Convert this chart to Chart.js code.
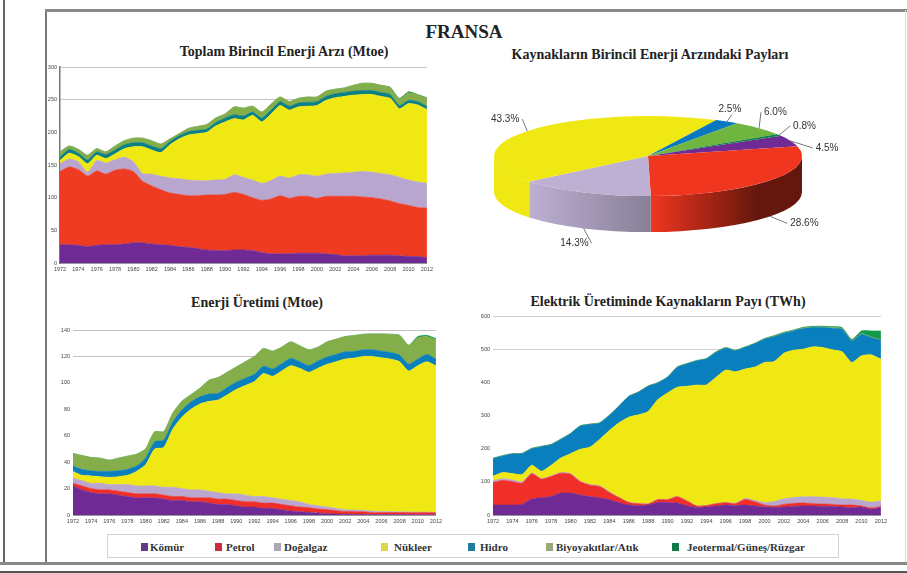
<!DOCTYPE html>
<html>
<head>
<meta charset="utf-8">
<title>Fransa</title>
<script src="https://cdn.jsdelivr.net/npm/chart.js@4"></script>
<style>
html, body { margin: 0; padding: 0; background: #fff; }
#page { position: relative; width: 907px; height: 573px; overflow: hidden; background: #fff; filter: blur(0.6px); font-family: "Liberation Serif", serif; }
#page canvas { position: absolute; }
.line { position: absolute; }
.title { position: absolute; font-weight: bold; color: #222; white-space: nowrap; transform: translateX(-50%); line-height: 1; }
#legendBox { position: absolute; left: 107px; top: 534px; width: 730px; height: 22px; border: 1px solid #d0d4d8; background: #fff; }
.legendText { position: absolute; top: 541px; font-size: 11px; line-height: 12px; font-weight: bold; color: #333; white-space: nowrap; }
.legendMark { position: absolute; top: 543px; width: 7px; height: 8px; }
</style>
</head>
<body>
<div id="page">
	<div class="line" style="left:3px;top:0;width:2px;height:563px;background:#666"></div>
	<div class="line" style="left:45px;top:10px;width:2px;height:553px;background:#777"></div>
	<div class="line" style="left:45px;top:9px;width:862px;height:3px;background:#888"></div>
	<div class="line" style="left:905px;top:10px;width:1px;height:553px;background:#ddd"></div>
	<div class="line" style="left:0;top:562px;width:907px;height:3px;background:#888"></div>
	<div class="line" style="left:0;top:571px;width:907px;height:2px;background:#555"></div>

	<div class="title" style="left:464px;top:22px;font-size:19px">FRANSA</div>
	<div class="title" style="left:284px;top:45px;font-size:14px">Toplam Birincil Enerji Arzı (Mtoe)</div>
	<div class="title" style="left:650px;top:48px;font-size:14px">Kaynakların Birincil Enerji Arzındaki Payları</div>
	<div class="title" style="left:257px;top:296px;font-size:14px">Enerji Üretimi (Mtoe)</div>
	<div class="title" style="left:668px;top:295px;font-size:14px">Elektrik Üretiminde Kaynakların Payı (TWh)</div>

	<canvas id="supplyChart" style="left:40px;top:60px" width="396" height="215"></canvas>
	<canvas id="pieChart" style="left:438px;top:90px" width="420" height="170"></canvas>
	<canvas id="productionChart" style="left:50px;top:322px" width="395" height="205"></canvas>
	<canvas id="electricityChart" style="left:470px;top:308px" width="420" height="219"></canvas>

	<div id="legendBox"></div>
</div>
<script>
var seriesNames = ['Kömür', 'Petrol', 'Doğalgaz', 'Nükleer', 'Hidro', 'Biyoyakıtlar/Atık', 'Jeotermal/Güneş/Rüzgar'];

var years = [
	'1972','1973','1974','1975','1976','1977','1978','1979','1980','1981',
	'1982','1983','1984','1985','1986','1987','1988','1989','1990','1991',
	'1992','1993','1994','1995','1996','1997','1998','1999','2000','2001',
	'2002','2003','2004','2005','2006','2007','2008','2009','2010','2011','2012'
];

//Toplam Birincil Enerji Arzi (Mtoe)
var supplyCoal = [28,28,27,25,27,28,28,29,31,31, 29,28,27,25,24,22,20,19,19,20, 20,19,16,14,14,14,15,15,15,14, 13,11,11,11,12,12,12,11,10,10, 8];
var supplyOil = [112,119,116,108,114,108,114,115,109,94, 89,84,80,80,79,81,84,85,86,88, 85,81,80,84,89,85,87,87,84,88, 89,91,91,90,88,86,83,80,78,75, 76];
var supplyGas = [12,12,12,6,16,17,16,18,15,12, 18,21,23,24,24,23,22,23,23,27, 26,27,26,28,30,31,33,33,34,34, 35,36,37,39,39,39,40,40,39,39, 38];
var supplyNuclear = [5,9,8,13,8,7,9,13,23,41, 37,36,51,61,69,72,74,83,88,86, 88,99,94,102,108,104,104,105,108,113, 116,117,118,118,119,118,117,105,117,118, 113];
var supplyHydro = [5,6,5,6,5,6,6,6,6,6, 6,6,5,5,5,5,5,5,6,6, 6,5,6,6,6,6,6,6,6,6, 6,6,6,6,6,6,6,5,5,5, 5];
var supplyBio = [8,5,6,7,5,4,6,6,7,7, 8,7,4,3,5,6,7,7,6,12, 12,9,9,9,7,7,7,8,7,8, 7,7,9,11,11,11,10,10,11,10, 12];
var supplyGeo = [0,0,0,0,0,0,0,0,0,0, 0,0,0,0,0,0,0,0,0,0, 0,0,0,0,0,0,0,0,0,0, 0,0,0,0,0,0,1,1,2,1, 1];

//Kaynaklarin Birincil Enerji Arzindaki Paylari (%)
var shareValues = [4.5, 28.6, 14.3, 43.3, 2.5, 6.0, 0.8];

//Enerji Uretimi (Mtoe)
var productionCoal = [22,19,17,16,16,15,14,13,13,13, 12,11,11,10,10,9,8,8,7,6, 6,5,5,4,3,2.5,2,1.5,1,0.8, 0.6,0.5,0.4,0.3,0.3,0.3,0.3,0.2,0.2,0.2, 0.1];
var productionOil = [2,3,3,3,3,3,3,3,3,3, 3,3,3,3,3,4,4,4,4,4, 4,4,4,4,4,3.5,3.5,3,3,2.5, 2,2,2,1.5,1.5,1.5,1.5,1.5,1.5,1.5, 1.5];
var productionGas = [4,4,4,5,4,5,6,6,6,6, 6,7,6,6,6,5,5,4,5,5, 4,5,4,4,4,4,2.5,2.5,2,1.7, 1.4,1.3,1.1,1.2,0.8,0.7,0.6,0.6,0.5,0.5, 0.4];
var productionNuclear = [5,4,5.5,5,5.5,6,7,11,16,28, 30,44,54,61,65,68,70,75,79,83, 87,93,92,97,102,101,100,104,108,111, 114,115,116.5,117,116.4,115.5,113.6,106.7,110.8,113.8, 111];
var productionHydro = [4,4.5,4,4,4.5,4.5,4.5,4,5,5.5, 5.5,5.5,5.5,5.5,5.5,5.5,5,5.5,5.5,5.5, 5.5,5.5,5.5,5.5,5.5,5,5,5.5,5.5,5.5, 5.5,5,5,5,5,5,5,5,5,5.5, 5];
var productionBio = [9.6,10.5,10,10,8.5,9.5,10,9,7,7.5, 6.5,6.5,6.5,5.5,6.5,10.5,12,11.5,11.5,12.5, 13.5,13.5,13.5,12.5,12.5,12,12,10.5,11.5,11.5, 11.5,12,11.8,12,13,13.8,15,14.5,16,13.5, 14.5];
var productionGeo = [0,0,0,0,0,0,0,0,0,0, 0,0,0,0,0,0,0,0,0,0, 0,0,0,0,0,0,0,0,0,0, 0,0,0,0,0,0,0,0,1,1, 1];

//Elektrik Uretiminde Kaynaklarin Payi (TWh)
var electricCoal = [30,30,30,32,48,52,56,66,66,60, 55,52,46,37,30,28,30,38,38,36, 28,23,24,27,30,28,30,27,25,23, 24,26,27,27,26,26,24,22,24,17, 23];
var electricOil = [68,74,71,64,76,56,60,60,57,40, 35,34,22,15,8,6,3,8,8,19, 14,4,4,7,7,6,17,13,5,4, 8,9,9,7,7,6,6,8,3,4, 3];
var electricGas = [5,5,5,4,3,2,2,2,2,2, 2,2,2,1,1,1,1,1,1,1, 1,1,1,1,1,2,3,4,8,14, 17,18,19,21,21,20,19,18,17,18, 16];
var electricNuclear = [14,19,19,22,23,22,32,44,60,96, 113,140,185,225,256,267,278,301,321,329, 345,364,363,380,399,396,390,402,422,422, 439,444,445,452,451,446,443,412,436,444, 428];
var electricHydro = [53,50,59,63,50,74,62,56,60,70, 68,49,45,50,62,68,76,50,47,60, 67,72,78,75,66,63,65,70,70,75, 60,58,62,58,60,65,68,65,65,52, 57];
var electricBio = [1,1,1,1,1,1,1,1,1,1, 1,1,1,1,1,1,1,1,1,1, 1,1,1,1,1,1,1,1,1,2, 2,2,2,2,2,2,2,2,2,2, 2];
var electricGeo = [0,0,0,0,0,0,0,0,0,0, 0,0,0,0,0,0,0,0,0,1, 1,1,1,1,1,1,1,1,1,1, 1,1,2,2,2,3,3,3,8,18, 26];

var supplyColors = ['#6f2a96', '#ef3b22', '#b8a6cf', '#efe813', '#0b7f86', '#83ae4a', '#2f8f45'];
var areaColors = ['#6f2a96', '#ef2f28', '#baa6cf', '#efe813', '#0a7fbe', '#83ae4a', '#0f9a4c'];
var pieColors = ['#6f2a96', '#f0361f', '#bdb0d2', '#efe813', '#0a78c0', '#6fb53f', '#0f7f46'];

var legendColors = ['#5d3a8a', '#cf2a38', '#a9a7b4', '#d9d84e', '#1f7ca0', '#9ba77a', '#0f7b48'];
var legendMarkLeft = [141, 215, 274, 381, 468, 546, 672];
var legendTextLeft = [150, 226, 284, 394, 480, 556, 687];

var page = document.getElementById('page');
seriesNames.forEach(function(name, i){
	var mark = document.createElement('div');
	mark.className = 'legendMark';
	mark.style.left = legendMarkLeft[i] + 'px';
	mark.style.background = legendColors[i];
	page.appendChild(mark);
	var text = document.createElement('div');
	text.className = 'legendText';
	text.style.left = legendTextLeft[i] + 'px';
	text.textContent = name;
	page.appendChild(text);
});

/**
 * Yigilmis alan grafigi
 */
function stackedArea(id, seriesList, colors, opt){
	var datasets = seriesList.map(function(values, i){
		return {
			label: seriesNames[i],
			data: values,
			backgroundColor: colors[i],
			borderColor: colors[i],
			borderWidth: 0.6,
			pointRadius: 0,
			tension: 0.2,
			fill: i === 0 ? 'origin' : '-1'
		};
	});
	return new Chart(document.getElementById(id), {
		type: 'line',
		data: { labels: years, datasets: datasets },
		options: {
			responsive: false,
			animation: false,
			layout: { padding: { top: opt.padTop, right: opt.padRight } },
			plugins: { legend: { display: false }, title: { display: false }, tooltip: { enabled: false } },
			scales: {
				x: {
					stacked: true,
					offset: false,
					afterFit: function(scale){ scale.height = 12; },
					grid: { display: false, drawTicks: false },
					border: { color: '#999' },
					ticks: {
						autoSkip: false,
						maxRotation: 0,
						padding: 3,
						color: '#444',
						font: { size: 5.5, family: 'Liberation Sans' },
						callback: function(value, index){ return index % 2 === 0 ? this.getLabelForValue(value) : ''; }
					}
				},
				y: {
					stacked: true,
					min: 0,
					max: opt.max,
					afterFit: function(scale){ scale.width = opt.axisWidth; },
					grid: {
						drawTicks: false,
						//sadece ustteki iki cizgi gorunuyor
						color: function(c){ return c.tick.value >= opt.max - opt.step ? opt.gridColor : 'transparent'; }
					},
					border: { display: opt.showAxisLine, color: '#777', width: 1.5 },
					ticks: {
						stepSize: opt.step,
						padding: 3,
						color: '#444',
						font: { size: 5.5, family: 'Liberation Sans' }
					}
				}
			}
		}
	});
}

stackedArea('supplyChart',
	[supplyCoal, supplyOil, supplyGas, supplyNuclear, supplyHydro, supplyBio, supplyGeo],
	supplyColors,
	{ max: 300, step: 50, axisWidth: 20, padTop: 7, padRight: 6, gridColor: '#c4c4c4', showAxisLine: true });

stackedArea('productionChart',
	[productionCoal, productionOil, productionGas, productionNuclear, productionHydro, productionBio, productionGeo],
	areaColors,
	{ max: 140, step: 20, axisWidth: 23, padTop: 8, padRight: 9, gridColor: '#cbbcc0', showAxisLine: false });

stackedArea('electricityChart',
	[electricCoal, electricOil, electricGas, electricNuclear, electricHydro, electricBio, electricGeo],
	areaColors,
	{ max: 600, step: 100, axisWidth: 23, padTop: 8, padRight: 7, gridColor: '#cfcfcf', showAxisLine: false });

//3B gorunum: dilimler yassilatilir, on yuz egimli renkle cizilir
var squash = 0.26;
var wallDepth = 36;
var wallDarkest = [1, 0.42, 0.72, 1, 1, 1, 1];
var wallDarkStop = [1, 0.7, 1, 1, 1, 1, 1];
var labelLeader = [[22,7], [17,7], [8,15], [-5,-12], [5,-7], [2,-16], [11,-9]];
var labelAlign = ['left', 'left', 'right', 'right', 'center', 'left', 'left'];

function shade(hex, f){
	var r = parseInt(hex.substr(1,2), 16) * f;
	var g = parseInt(hex.substr(3,2), 16) * f;
	var b = parseInt(hex.substr(5,2), 16) * f;
	return 'rgb(' + Math.round(r) + ',' + Math.round(g) + ',' + Math.round(b) + ')';
}

var piePlugin = {
	id: 'pie3d',
	beforeDatasetsDraw: function(chart){
		var ctx = chart.ctx;
		var arcs = chart.getDatasetMeta(0).data;
		arcs.forEach(function(arc, i){
			var cx = arc.x, cy = arc.y, R = arc.outerRadius, Ry = R * squash;
			//sadece on yari gorunur
			for (var turn = -2; turn <= 2; turn += 2) {
				var a1 = Math.max(arc.startAngle + turn * Math.PI, 0);
				var a2 = Math.min(arc.endAngle + turn * Math.PI, Math.PI);
				if (a2 <= a1) continue;
				var grad = ctx.createLinearGradient(cx + R * Math.cos(a2), 0, cx + R * Math.cos(a1), 0);
				grad.addColorStop(0, shade(pieColors[i], 1));
				grad.addColorStop(wallDarkStop[i], shade(pieColors[i], wallDarkest[i]));
				grad.addColorStop(1, shade(pieColors[i], wallDarkest[i]));
				ctx.fillStyle = grad;
				ctx.beginPath();
				ctx.ellipse(cx, cy, R, Ry, 0, a1, a2, false);
				ctx.lineTo(cx + R * Math.cos(a2), cy + Ry * Math.sin(a2) + wallDepth);
				ctx.ellipse(cx, cy + wallDepth, R, Ry, 0, a2, a1, true);
				ctx.closePath();
				ctx.fill();
			}
		});
		var first = arcs[0];
		ctx.save();
		ctx.translate(first.x, first.y);
		ctx.scale(1, squash);
		ctx.translate(-first.x, -first.y);
	},
	afterDatasetsDraw: function(chart){
		var ctx = chart.ctx;
		ctx.restore();
		var arcs = chart.getDatasetMeta(0).data;
		ctx.font = '10px "Liberation Sans"';
		ctx.textBaseline = 'middle';
		arcs.forEach(function(arc, i){
			var mid = (arc.startAngle + arc.endAngle) / 2;
			var x = arc.x + arc.outerRadius * Math.cos(mid);
			var y = arc.y + arc.outerRadius * squash * Math.sin(mid);
			if (Math.sin(mid) > 0.2) y += wallDepth;
			var ex = x + labelLeader[i][0];
			var ey = y + labelLeader[i][1];
			ctx.strokeStyle = '#555';
			ctx.lineWidth = 0.8;
			ctx.beginPath();
			ctx.moveTo(x, y);
			ctx.lineTo(ex, ey);
			ctx.stroke();
			ctx.fillStyle = '#333';
			ctx.textAlign = labelAlign[i];
			var tx = ex + (labelAlign[i] === 'left' ? 3 : labelAlign[i] === 'right' ? -3 : -2);
			var ty = labelAlign[i] === 'center' ? ey - 5 : ey;
			ctx.fillText(shareValues[i].toFixed(1) + '%', tx, ty);
		});
	}
};

new Chart(document.getElementById('pieChart'), {
	type: 'pie',
	data: {
		labels: seriesNames,
		datasets: [{ data: shareValues, backgroundColor: pieColors, borderWidth: 0, clip: false }]
	},
	options: {
		responsive: false,
		animation: false,
		radius: 154,
		rotation: 59.8,
		layout: { padding: { bottom: 38 } },
		plugins: { legend: { display: false }, tooltip: { enabled: false } }
	},
	plugins: [piePlugin]
});
</script>
</body>
</html>
